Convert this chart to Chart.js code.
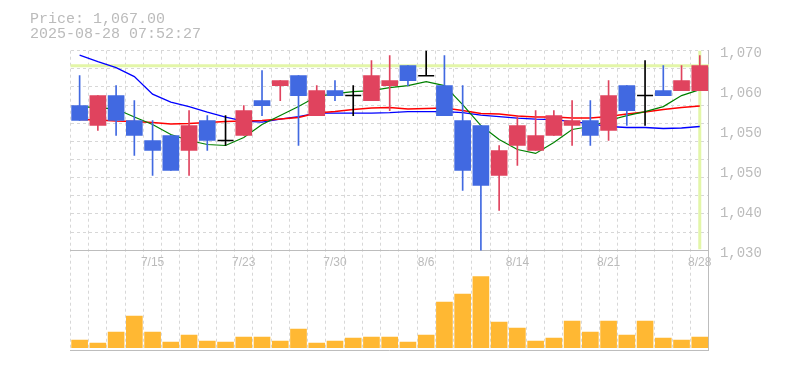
<!DOCTYPE html>
<html>
<head>
<meta charset="utf-8">
<script src="https://cdn.jsdelivr.net/npm/chart.js@4.4.1/dist/chart.umd.min.js"></script>
<style>
  body { margin: 0; background: #fff; }
  #wrap { position: relative; width: 785px; height: 370px; }
  #info { position: absolute; left: 30px; top: 11.5px; font: 15px "Liberation Mono", monospace; line-height: 15.6px; color: #bbb; white-space: pre; }
</style>
</head>
<body>
<div id="wrap">
  <canvas id="chart" width="785" height="370"></canvas>
  <div id="info">Price: 1,067.00
2025-08-28 07:52:27</div>
</div>
<script>
// dates (trading days)
const dates = ['7/9','7/10','7/11','7/14','7/15','7/16','7/17','7/18','7/22','7/23',
  '7/24','7/25','7/28','7/29','7/30','7/31','8/1','8/4','8/5','8/6',
  '8/7','8/8','8/12','8/13','8/14','8/15','8/18','8/19','8/20','8/21',
  '8/22','8/25','8/26','8/27','8/28'];
const shownDates = ['7/15','7/23','7/30','8/6','8/14','8/21','8/28'];

// OHLC
const open  = [1059,1055,1061,1056,1052,1053,1050,1056,1052,1053,1060,1063,1065,1057,1062,1061,1060,1063,1067,1065,1063,1056,1055,1045,1051,1050,1053,1055,1056,1054,1063,1061,1062,1062,1062];
const high  = [1065,1061,1063,1060,1056,1053,1058,1057,1057,1059,1066,1064,1065,1063,1064,1063,1068,1069,1067,1071,1069,1063,1055,1051,1057,1058,1058,1060,1060,1064,1063,1068,1067,1067,1069];
const low   = [1056,1054,1053,1049,1045,1046,1045,1050,1051,1053,1057,1060,1051,1057,1060,1057,1060,1058,1063,1065,1057,1042,1030,1038,1047,1050,1053,1051,1051,1052,1055,1055,1061,1062,1062];
const close = [1056,1061,1056,1053,1050,1046,1055,1052,1052,1058,1059,1064,1061,1062,1061,1061,1065,1064,1064,1065,1057,1046,1043,1050,1055,1053,1057,1056,1053,1061,1058,1061,1061,1064,1067];

// moving averages (green / red / blue)
const ma5  = [1058.8,1058.6,1058.3,1056.7,1055.2,1053.2,1052.0,1051.2,1051.0,1052.6,1055.2,1057.0,1058.8,1060.8,1061.4,1061.8,1062.0,1062.6,1063.0,1063.8,1063.0,1059.2,1055.0,1052.2,1050.2,1049.4,1051.6,1054.2,1054.8,1056.0,1057.0,1057.8,1058.8,1061.0,1062.2];
const ma25 = [1056.2,1056.1,1055.9,1055.8,1055.6,1055.3,1055.4,1055.6,1055.8,1055.9,1056.0,1056.3,1056.6,1057.5,1057.8,1058.2,1058.5,1058.6,1058.3,1058.4,1058.5,1058.0,1057.4,1057.3,1056.9,1056.7,1056.7,1056.5,1056.5,1056.8,1057.3,1057.7,1058.2,1058.6,1058.9];
const ma75 = [1069.1,1067.8,1066.6,1064.8,1061.3,1059.7,1058.8,1057.7,1056.7,1055.9,1055.7,1056.3,1056.8,1057.5,1057.5,1057.5,1057.5,1057.6,1057.8,1057.8,1057.8,1057.6,1057.1,1056.8,1056.5,1056.3,1056.2,1055.8,1055.4,1054.8,1054.6,1054.6,1054.4,1054.5,1054.8];

// volume
const volume = [7700,4700,15700,31700,15700,5700,12700,6700,5700,10700,10700,6700,18700,4700,6700,9700,10700,10700,5700,12700,45700,53700,71000,25700,19700,6700,9700,26700,15700,26700,12700,26700,9700,7700,10700];

// price axis
const priceTicks = [1070, 1062, 1054, 1046, 1038, 1030];
const priceTickLabels = ['1,070', '1,060', '1,050', '1,050', '1,040', '1,030'];
const priceTop = 1070;
const priceBottom = 1030;
const axisMin = 1010;
const volMin = -2300;
const volMax = 297000;

const UP = '#e0435e', DOWN = '#4169e1', FLAT = '#000000';
const candleColor = open.map((o, i) => close[i] > o ? UP : close[i] < o ? DOWN : FLAT);
const bodies = open.map((o, i) => o === close[i] ? null : [o, close[i]]);
const wicks = low.map((l, i) => [l, high[i]]);
const doji = open.map((o, i) => o === close[i] ? close[i] : null);

const priceMarker = {
  id: 'priceMarker',
  beforeDatasetsDraw(chart) {
    const { ctx, chartArea, scales } = chart;
    const last = close.length - 1;
    const y = scales.y.getPixelForValue(close[last]);
    const x = scales.x.getPixelForValue(last);
    ctx.save();
    ctx.strokeStyle = '#e3f6a8';
    ctx.lineWidth = 3;
    ctx.beginPath();
    ctx.moveTo(chartArea.left, y);
    ctx.lineTo(chartArea.right, y);
    ctx.moveTo(x, scales.y.getPixelForValue(priceTop));
    ctx.lineTo(x, scales.y.getPixelForValue(priceBottom) - 1);
    ctx.stroke();
    ctx.restore();
  }
};

const gridColor = '#d7d7d7';
const axisColor = '#bdbdbd';

new Chart(document.getElementById('chart'), {
  type: 'bar',
  data: {
    labels: dates,
    datasets: [
      { type: 'bar', data: bodies, backgroundColor: candleColor, barThickness: 16, grouped: false, order: 0, xAxisID: 'x', yAxisID: 'y' },
      { type: 'line', data: doji, showLine: false, pointStyle: 'line', pointRadius: 8, pointHoverRadius: 8,
        pointBorderColor: '#000', pointBorderWidth: 1.5, order: 1, xAxisID: 'x', yAxisID: 'y' },
      { type: 'bar', data: wicks, backgroundColor: candleColor, barThickness: 1, grouped: false, order: 2, xAxisID: 'x', yAxisID: 'y' },
      { type: 'line', data: ma5, borderColor: '#008000', borderWidth: 1.2, pointRadius: 0, tension: 0, order: 3, xAxisID: 'x', yAxisID: 'y' },
      { type: 'line', data: ma25, borderColor: '#ff0000', borderWidth: 1.5, pointRadius: 0, tension: 0, order: 4, xAxisID: 'x', yAxisID: 'y' },
      { type: 'line', data: ma75, borderColor: '#0000ff', borderWidth: 1.3, pointRadius: 0, tension: 0, order: 5, xAxisID: 'x', yAxisID: 'y' },
      { type: 'bar', data: volume, backgroundColor: '#ffb833', barThickness: 16, grouped: false, order: 6, xAxisID: 'x', yAxisID: 'yv' }
    ]
  },
  options: {
    responsive: false,
    animation: false,
    layout: { padding: { left: 70.5, top: 50.7, right: 0, bottom: 20 } },
    plugins: { legend: { display: false }, tooltip: { enabled: false } },
    scales: {
      x: {
        axis: 'x', type: 'category', position: 'bottom', offset: true,
        grid: { offset: true, color: gridColor, drawTicks: false },
        border: { color: axisColor, dash: [3, 3] },
        ticks: { display: false },
        afterFit: s => { s.height = 0; }
      },
      xl: {
        axis: 'x', type: 'category', position: { y: priceBottom }, offset: true,
        grid: { display: true, drawOnChartArea: false, drawTicks: false },
        border: { color: axisColor },
        ticks: {
          autoSkip: false, maxRotation: 0, padding: 5, color: '#bbb',
          font: { family: 'Liberation Sans', size: 12 },
          callback: (v, i) => shownDates.includes(dates[i]) ? dates[i] : ''
        }
      },
      y: {
        axis: 'y', position: 'right', min: axisMin, max: priceTop,
        afterBuildTicks: s => { s.ticks = priceTicks.map(v => ({ value: v })); },
        grid: { display: false, drawTicks: false },
        border: { color: axisColor },
        ticks: {
          padding: 11, color: '#bbb', labelOffset: 3,
          font: { family: 'Liberation Mono', size: 14 },
          callback: v => priceTickLabels[priceTicks.indexOf(v)]
        },
        afterFit: s => { s.width = 76.1; }
      },
      yg: {
        axis: 'y', position: 'left', min: axisMin, max: priceTop,
        afterBuildTicks: s => {
          const step = (priceTop - priceBottom) / 11;
          const t = [];
          for (let k = 0; k <= 11; k++) t.push({ value: priceBottom + k * step });
          s.ticks = t;
        },
        grid: { color: gridColor, drawTicks: false },
        border: { display: false, dash: [3, 3] },
        ticks: { display: false },
        afterFit: s => { s.width = 0; }
      },
      yv: { axis: 'y', display: false, min: volMin, max: volMax }
    }
  },
  plugins: [priceMarker]
});
</script>
</body>
</html>
